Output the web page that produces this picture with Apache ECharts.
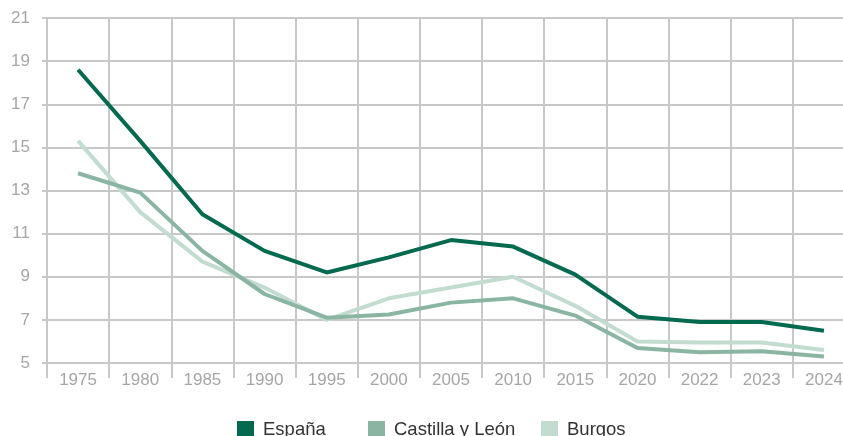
<!DOCTYPE html>
<html>
<head>
<meta charset="utf-8">
<script src="https://cdn.jsdelivr.net/npm/echarts@6/dist/echarts.min.js"></script>
<style>
  html, body { margin: 0; padding: 0; background: #fff; overflow: hidden; }
  #chartWrap { width: 855px; height: 436px; }
</style>
</head>
<body>
<div id="chartWrap"></div>
<script>
// datos
var years = ['1975', '1980', '1985', '1990', '1995', '2000', '2005', '2010', '2015', '2020', '2022', '2023', '2024'];
var espana = [18.6, 15.3, 11.9, 10.2, 9.2, 9.9, 10.7, 10.4, 9.1, 7.15, 6.9, 6.9, 6.5];
var castillaLeon = [13.8, 12.9, 10.2, 8.2, 7.1, 7.25, 7.8, 8.0, 7.2, 5.7, 5.5, 5.55, 5.3];
var burgos = [15.3, 12.0, 9.7, 8.5, 7.0, 8.0, 8.5, 9.0, 7.65, 6.0, 5.95, 5.95, 5.6];

var colores = ['#03694f', '#8ab5a3', '#c2dcd0'];
var nombres = ['España', 'Castilla y León', 'Burgos'];

var legendLeft = [237, 368, 541];

function makeLegend(i) {
    return {
        left: legendLeft[i],
        top: 420,
        data: [nombres[i]],
        icon: 'rect',
        itemWidth: 17,
        itemHeight: 17,
        padding: 0,
        textStyle: {
            fontFamily: 'Liberation Sans',
            fontSize: 18.5,
            color: '#333',
            padding: [0, 0, 0, 4]
        }
    };
}

function makeSerie(i, data) {
    return {
        name: nombres[i],
        type: 'line',
        data: data,
        symbol: 'none',
        color: colores[i],
        lineStyle: { width: 4, color: colores[i] },
        z: 10 - i
    };
}

var option = {
    animation: false,
    grid: { left: 47, right: 0, top: 18, bottom: 73 },
    legend: [makeLegend(0), makeLegend(1), makeLegend(2)],
    xAxis: {
        type: 'category',
        data: years,
        boundaryGap: true,
        axisLine: { show: true, lineStyle: { color: '#c8c8c8', width: 2 } },
        axisTick: { show: true, length: 15, lineStyle: { color: '#c8c8c8', width: 2 } },
        axisLabel: {
            fontFamily: 'Liberation Sans',
            fontSize: 17,
            color: '#a6a6a6',
            margin: 9
        },
        splitLine: { show: true, lineStyle: { color: '#c8c8c8', width: 2 } }
    },
    yAxis: {
        type: 'value',
        min: 5,
        max: 21,
        interval: 2,
        axisLine: { show: false },
        axisTick: { show: true, length: 5, lineStyle: { color: '#c8c8c8', width: 2 } },
        axisLabel: {
            fontFamily: 'Liberation Sans',
            fontSize: 17,
            color: '#a6a6a6',
            margin: 17
        },
        splitLine: { show: true, lineStyle: { color: '#c8c8c8', width: 2 } }
    },
    series: [
        makeSerie(0, espana),
        makeSerie(1, castillaLeon),
        makeSerie(2, burgos)
    ]
};

var myChart = echarts.init(document.getElementById('chartWrap'));
myChart.setOption(option);
</script>
</body>
</html>
